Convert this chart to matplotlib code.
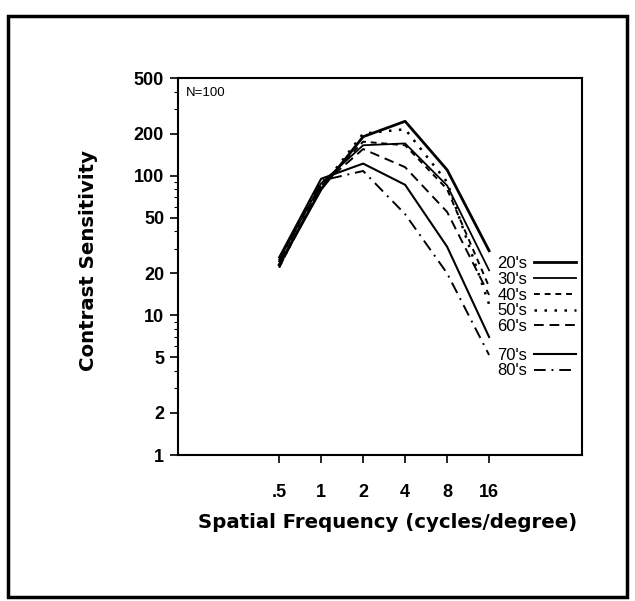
import matplotlib
matplotlib.use("Agg")
import matplotlib.pyplot as plt
from matplotlib.patches import Rectangle
from matplotlib.ticker import FixedLocator, NullFormatter, LogLocator

plt.rcParams['font.family'] = ['Liberation Sans', 'DejaVu Sans']

freqs = [0.5, 1, 2, 4, 8, 16]
freq_labels = ['.5', '1', '2', '4', '8', '16']
groups = ["20's", "30's", "40's", "50's", "60's", "70's", "80's"]
s20 = [23, 80, 190, 245, 110, 29]
s30 = [25, 88, 165, 170, 85, 21]
s40 = [22, 85, 175, 165, 80, 16]
s50 = [24, 82, 200, 215, 90, 12]
s60 = [22, 85, 155, 115, 55, 14]
s70 = [26, 95, 122, 86, 31, 7]
s80 = [24, 92, 108, 53, 20, 5.2]
series = [s20, s30, s40, s50, s60, s70, s80]
y_ticks = [1, 2, 5, 10, 20, 50, 100, 200, 500]

styles = [
    dict(ls='-', lw=2.0),
    dict(ls='-', lw=1.3),
    dict(ls=(0, (3, 2.5)), lw=1.4),
    dict(ls=(0, (1, 3)), lw=1.8),
    dict(ls=(0, (5, 3)), lw=1.4),
    dict(ls='-', lw=1.5),
    dict(ls=(0, (6, 3, 1, 3)), lw=1.4),
]

fig = plt.figure(figsize=(6.35, 6.01), dpi=100)
ax = fig.add_axes([0.2803, 0.2429, 0.636, 0.6273])

handles = []
for vals, lab, st in zip(series, groups, styles):
    h, = ax.plot(freqs, vals, color='black', label=lab, **st)
    handles.append(h)

ax.set_xscale('log', base=2)
ax.set_yscale('log')
ax.set_xlim(0.0941, 74)
ax.set_ylim(1, 500)

ax.xaxis.set_major_locator(FixedLocator(freqs))
ax.set_xticklabels(freq_labels)
ax.xaxis.set_minor_locator(FixedLocator([]))
ax.yaxis.set_major_locator(FixedLocator(y_ticks))
ax.set_yticklabels([str(v) for v in y_ticks])
ax.yaxis.set_minor_locator(LogLocator(base=10, subs=range(1, 10)))
ax.yaxis.set_minor_formatter(NullFormatter())

ax.tick_params(axis='both', which='major', direction='out', length=6, width=1.2,
               labelsize=13, pad=4)
ax.tick_params(axis='x', which='major', pad=15)
ax.tick_params(axis='y', which='minor', direction='out', length=3, width=0.8)
for lbl in ax.get_xticklabels() + ax.get_yticklabels():
    lbl.set_fontweight('bold')
for sp in ax.spines.values():
    sp.set_linewidth(1.5)

ax.text(0.02, 0.975, 'N=100', transform=ax.transAxes, fontsize=9.5,
        va='top', ha='left')

ax.set_ylabel('Contrast Sensitivity', fontsize=14.2, fontweight='bold',
              family='DejaVu Sans')
ax.set_xlabel('Spatial Frequency (cycles/degree)', fontsize=14.2,
              fontweight='bold', family='DejaVu Sans')
ax.yaxis.set_label_coords(-0.198, 0.517)
ax.xaxis.set_label_coords(0.52, -0.153)

leg_kw = dict(frameon=False, markerfirst=False, fontsize=12, handlelength=2.5,
              labelspacing=0.05, handletextpad=0.4, borderpad=0, loc='upper left')
leg1 = ax.legend(handles[:5], groups[:5], bbox_to_anchor=(0.77, 0.55), **leg_kw)
ax.add_artist(leg1)
ax.legend(handles[5:], groups[5:], bbox_to_anchor=(0.77, 0.307), **leg_kw)

fig.patches.append(Rectangle((8 / 635, 1 - 597 / 601), 619 / 635, 581 / 601,
                             transform=fig.transFigure, fill=False,
                             edgecolor='black', linewidth=2.5))

fig.savefig('out.png', dpi=100)
